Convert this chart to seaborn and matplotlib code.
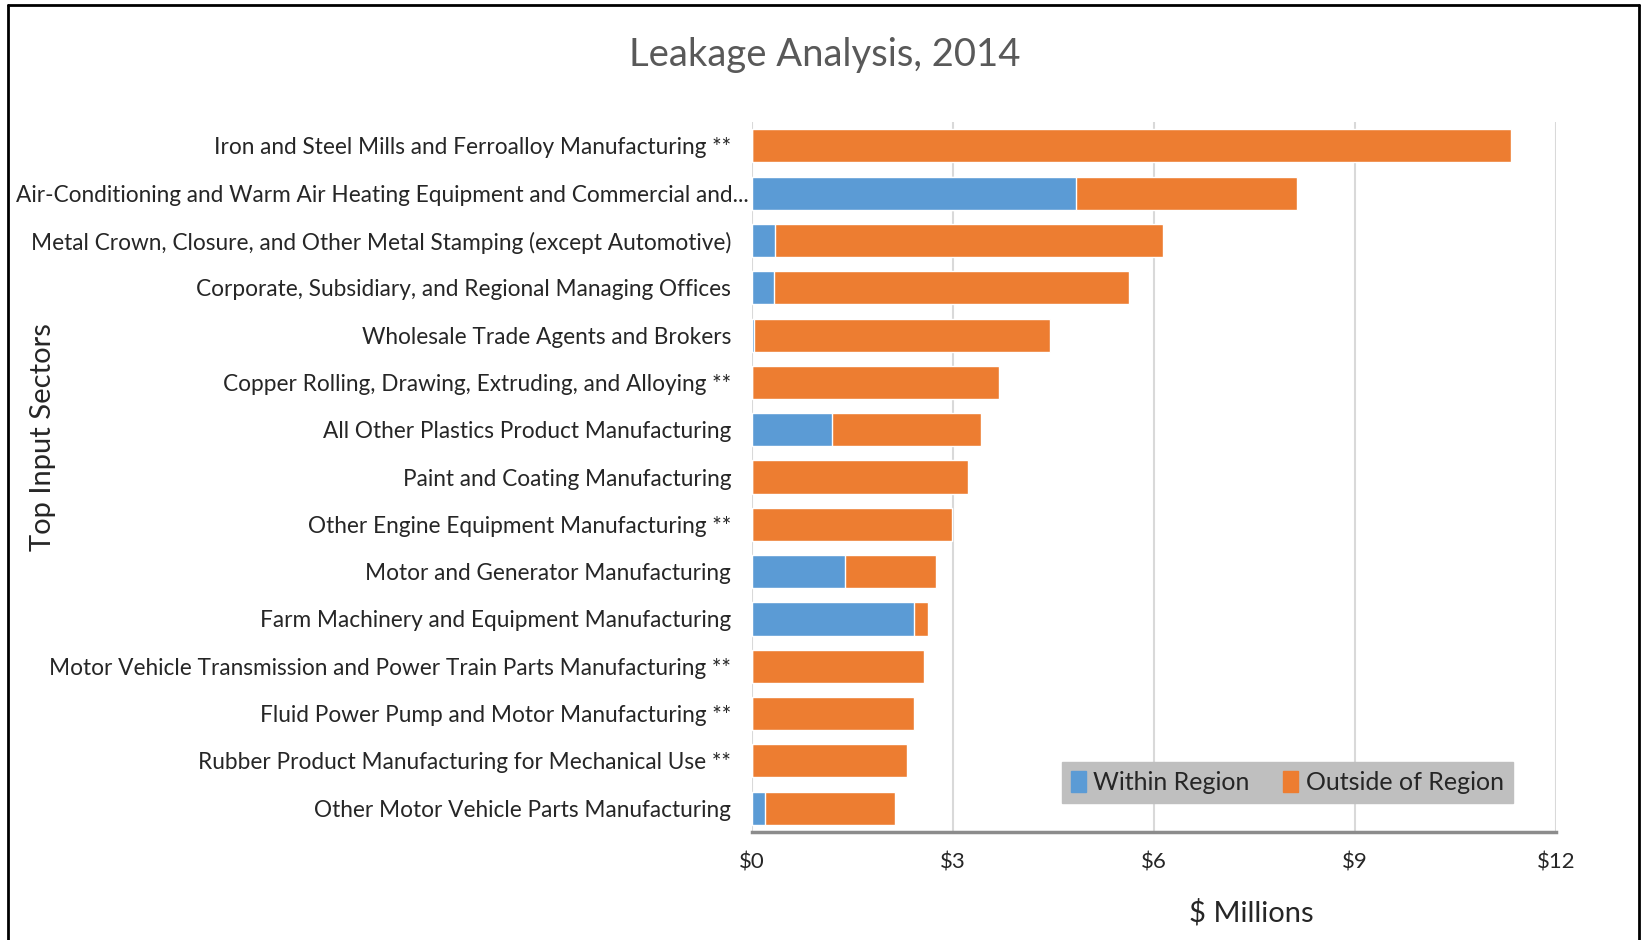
import matplotlib
matplotlib.use("Agg")
import matplotlib.pyplot as plt
import matplotlib.transforms as mtransforms
import seaborn as sns
import pandas as pd
from matplotlib.lines import Line2D
from matplotlib.patches import Patch
from matplotlib.ticker import FuncFormatter

# Data ($ millions)
sectors = [
    "Iron and Steel Mills and Ferroalloy Manufacturing **",
    "Air-Conditioning and Warm Air Heating Equipment and Commercial and...",
    "Metal Crown, Closure, and Other Metal Stamping (except Automotive)",
    "Corporate, Subsidiary, and Regional Managing Offices",
    "Wholesale Trade Agents and Brokers",
    "Copper Rolling, Drawing, Extruding, and Alloying **",
    "All Other Plastics Product Manufacturing",
    "Paint and Coating Manufacturing",
    "Other Engine Equipment Manufacturing **",
    "Motor and Generator Manufacturing",
    "Farm Machinery and Equipment Manufacturing",
    "Motor Vehicle Transmission and Power Train Parts Manufacturing **",
    "Fluid Power Pump and Motor Manufacturing **",
    "Rubber Product Manufacturing for Mechanical Use **",
    "Other Motor Vehicle Parts Manufacturing",
]
within = [0.0, 4.83, 0.34, 0.33, 0.03, 0.0, 1.20, 0.0, 0.0, 1.39, 2.42, 0.0, 0.0, 0.0, 0.20]
outside = [11.33, 3.31, 5.79, 5.30, 4.42, 3.69, 2.22, 3.22, 2.98, 1.36, 0.21, 2.56, 2.42, 2.31, 1.93]
x_ticks = [0, 3, 6, 9, 12]

df = pd.DataFrame({"sector": sectors, "within": within, "outside": outside})
df["total"] = df["within"] + df["outside"]

blue = "#5B9BD5"
orange = "#ED7D31"

sns.set_style("white")
plt.rcParams["font.family"] = ["Lato", "DejaVu Sans"]

fig = plt.figure(figsize=(16.42, 9.4), dpi=100)
ax = fig.add_axes([0.458, 0.115, 0.4897, 0.755])

sns.barplot(data=df, y="sector", x="total", color=orange, orient="h",
            width=0.7, saturation=1, ax=ax)
sns.barplot(data=df, y="sector", x="within", color=blue, orient="h",
            width=0.7, saturation=1, ax=ax)

ax.set_xlim(0, 12)
ax.set_ylim(14.5, -0.5)
ax.set_xticks(x_ticks)
ax.xaxis.set_major_formatter(FuncFormatter(lambda v, p: f"${v:.0f}"))
ax.grid(axis="x", color="#D9D9D9", linewidth=1.5)
ax.set_axisbelow(True)
for s in ["top", "right", "left"]:
    ax.spines[s].set_visible(False)
ax.spines["bottom"].set_color("#8C8C8C")
ax.spines["bottom"].set_linewidth(2.5)
ax.tick_params(axis="x", length=8, width=1.5, color="#8C8C8C", pad=7, labelsize=16)
ax.tick_params(axis="y", length=0, pad=15, labelsize=16.3)
ax.set_ylabel("")
ax.set_xlabel("")

# the truncated long label runs past the others, as in the original
long_lbl = ax.get_yticklabels()[1]
long_lbl.set_transform(long_lbl.get_transform()
                       + mtransforms.ScaledTranslation(0.18, 0, fig.dpi_scale_trans))

fig.text(0.762, 0.029, "$ Millions", ha="center", va="center", fontsize=21)
fig.text(0.026, 0.535, "Top Input Sectors", ha="center", va="center",
         rotation=90, fontsize=21)
fig.text(0.502, 0.942, "Leakage Analysis, 2014", ha="center", va="center",
         fontsize=27.5, color="#595959")

handles = [Patch(color=blue, label="Within Region"),
           Patch(color=orange, label="Outside of Region")]
leg = ax.legend(handles=handles, loc="lower right", bbox_to_anchor=(0.946, 0.041),
                ncol=2, frameon=True, fontsize=18, handlelength=0.6,
                handleheight=0.9, handletextpad=0.3, columnspacing=1.35,
                borderpad=0.35, borderaxespad=0, fancybox=False)
leg.get_frame().set_facecolor("#BFBFBF")
leg.get_frame().set_edgecolor("#BFBFBF")
leg.get_frame().set_alpha(1)

# chart border
for xs, ys in [([0.005, 0.005], [0, 0.995]), ([0.005, 0.998], [0.995, 0.995]),
               ([0.998, 0.998], [0, 0.995])]:
    fig.add_artist(Line2D(xs, ys, color="black", linewidth=2, transform=fig.transFigure))

fig.savefig("out.png", dpi=100)
